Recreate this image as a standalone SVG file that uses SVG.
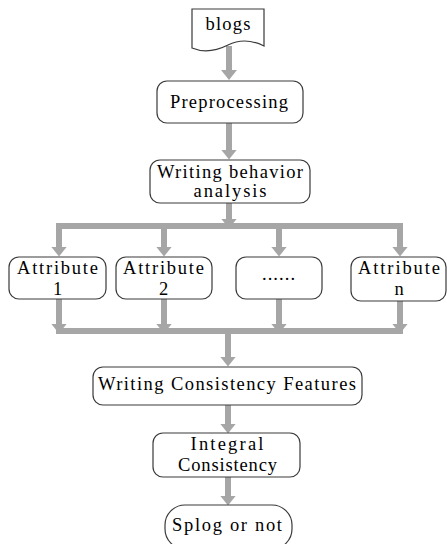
<svg xmlns="http://www.w3.org/2000/svg" width="447" height="544" viewBox="0 0 447 544">
<style>
.box{fill:#fff;stroke:#3a3a3a;stroke-width:1.2}
.t{font-family:"Liberation Serif","Times New Roman",serif;font-size:18.5px;fill:#000;text-anchor:middle}
.c{stroke:#a6a6a6;stroke-width:6;fill:none}
.a{stroke:#a6a6a6;stroke-width:6;fill:none;marker-end:url(#ah)}
</style>
<defs>
<marker id="ah" viewBox="0 0 10 16" refX="0.5" refY="8" markerWidth="10" markerHeight="16" markerUnits="userSpaceOnUse" orient="auto">
<path d="M0,0 L10,8 L0,16 Z" fill="#a6a6a6"/>
</marker>
</defs>
<rect width="447" height="544" fill="#fff"/>
<g id="connectors">
<line class="a" x1="229" y1="46" x2="229" y2="70.5"/>
<line class="a" x1="229" y1="123" x2="229" y2="150"/>
<line class="a" x1="229" y1="203" x2="229" y2="219"/>
<line class="c" x1="56" y1="226" x2="403" y2="226"/>
<line class="a" x1="59" y1="223" x2="59" y2="247"/>
<line class="a" x1="164" y1="223" x2="164" y2="247"/>
<line class="a" x1="279" y1="223" x2="279" y2="247"/>
<line class="a" x1="400" y1="223" x2="400" y2="247"/>
<line class="a" x1="59" y1="299" x2="59" y2="324"/>
<line class="a" x1="164" y1="299" x2="164" y2="324"/>
<line class="a" x1="279" y1="299" x2="279" y2="324"/>
<line class="a" x1="400" y1="301" x2="400" y2="324"/>
<line class="c" x1="56" y1="331" x2="403" y2="331"/>
<line class="a" x1="228" y1="331" x2="228" y2="357"/>
<line class="a" x1="228" y1="405" x2="228" y2="424"/>
<line class="a" x1="228" y1="477" x2="228" y2="496"/>
</g>
<g id="blogs">
<path class="box" d="M192,9 H264 V46 C252,40 240,39 228,45 C216,51 204,53 192,48 Z"/>
<text class="t" x="228" y="30" textLength="45">blogs</text>
</g>
<g id="preprocessing">
<rect class="box" x="157" y="81" width="146" height="42" rx="10"/>
<text class="t" x="229" y="108" textLength="118">Preprocessing</text>
</g>
<g id="wba">
<rect class="box" x="150" y="160" width="160" height="43" rx="10"/>
<text class="t" x="230" y="178" textLength="146">Writing behavior</text>
<text class="t" x="230" y="197" textLength="73">analysis</text>
</g>
<g id="attr1">
<rect class="box" x="9" y="257" width="97" height="42" rx="10"/>
<text class="t" x="57.5" y="274" textLength="81">Attribute</text>
<text class="t" x="57.5" y="295">1</text>
</g>
<g id="attr2">
<rect class="box" x="116" y="257" width="96" height="42" rx="10"/>
<text class="t" x="163.5" y="274" textLength="81">Attribute</text>
<text class="t" x="163.5" y="295">2</text>
</g>
<g id="attr3">
<rect class="box" x="236" y="257" width="86" height="42" rx="10"/>
<text class="t" x="278.5" y="280" textLength="33">......</text>
</g>
<g id="attrn">
<rect class="box" x="351" y="257" width="95" height="44" rx="10"/>
<text class="t" x="399" y="274" textLength="82">Attribute</text>
<text class="t" x="399" y="295">n</text>
</g>
<g id="wcf">
<rect class="box" x="93" y="367" width="269" height="38" rx="10"/>
<text class="t" x="227" y="390" textLength="258">Writing Consistency Features</text>
</g>
<g id="integral">
<rect class="box" x="153" y="433" width="147" height="44" rx="10"/>
<text class="t" x="227" y="450" textLength="73">Integral</text>
<text class="t" x="227.5" y="471" textLength="99">Consistency</text>
</g>
<g id="splog">
<rect class="box" x="165" y="505" width="127" height="44" rx="20"/>
<text class="t" x="227" y="531" textLength="110">Splog or not</text>
</g>
</svg>
